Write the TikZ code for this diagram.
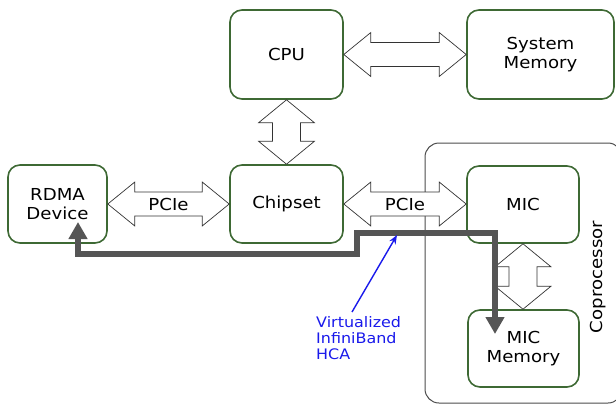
\documentclass[tikz,border=0pt]{standalone}
\usepackage{fontspec}
\setmainfont{DejaVu Sans}[FakeStretch=1.1]
\usetikzlibrary{arrows.meta,calc}
\definecolor{boxgreen}{RGB}{62,105,52}
\definecolor{pathgray}{RGB}{85,85,85}
\definecolor{hcablue}{RGB}{25,25,235}
\tikzset{
  box/.style={draw=boxgreen, line width=1.6pt, rounded corners=12pt, fill=white,
    align=center, inner sep=0pt, font=\fontsize{16.5}{19}\selectfont},
  darr/.style={draw=black!80, line width=0.7pt, fill=white, line join=miter},
  lbl/.style={inner sep=0pt, font=\fontsize{16.5}{19}\selectfont},
  datapath/.style={draw=pathgray, line width=6pt, line join=miter},
  hcaline/.style={draw=hcablue, line width=1.4pt}
}
% horizontal double arrow between #1 (left) and #2 (right)
\newcommand\hdblarrow[2]{%
  \draw[darr] let \p1=(#1), \p2=(#2) in
    (\x1,\y1) -- (\x1+27pt,\y1+22pt) -- (\x1+27pt,\y1+12pt) -- (\x2-27pt,\y1+12pt)
    -- (\x2-27pt,\y1+22pt) -- (\x2,\y1) -- (\x2-27pt,\y1-22pt) -- (\x2-27pt,\y1-12pt)
    -- (\x1+27pt,\y1-12pt) -- (\x1+27pt,\y1-22pt) -- cycle;}
% vertical double arrow between #1 (top) and #2 (bottom)
\newcommand\vdblarrow[2]{%
  \draw[darr] let \p1=(#1), \p2=(#2) in
    (\x1,\y1) -- (\x1+28pt,\y1-23pt) -- (\x1+14pt,\y1-23pt) -- (\x1+14pt,\y2+23pt)
    -- (\x1+28pt,\y2+23pt) -- (\x1,\y2) -- (\x1-28pt,\y2+23pt) -- (\x1-14pt,\y2+23pt)
    -- (\x1-14pt,\y1-23pt) -- (\x1-28pt,\y1-23pt) -- cycle;}
\begin{document}
\begin{tikzpicture}[x=1pt,y=-1pt]
\useasboundingbox (0,0) rectangle (616,405);
% coprocessor container
\draw[draw=black!70, line width=1pt, rounded corners=14pt] (425,143) rectangle (622,403);
\node[rotate=90, font=\fontsize{16.5}{19}\selectfont] (copro) at (598,277) {Coprocessor};
% boxes
\node[box, minimum width=113pt, minimum height=89pt] (cpu) at (286.5,54.5) {CPU};
\node[box, minimum width=147pt, minimum height=89pt] (sys) at (540.5,54.5) {System\\Memory};
\node[box, minimum width=99pt, minimum height=78pt] (rdma) at (57.5,204) {RDMA\\Device};
\node[box, minimum width=113pt, minimum height=78pt] (chip) at (286.5,204) {Chipset};
\node[box, minimum width=112pt, minimum height=77pt] (mic) at (523,204.5) {MIC};
\node[box, minimum width=111pt, minimum height=77pt] (micmem) at (523.5,348.5) {MIC\\Memory};
% double arrows
\hdblarrow{cpu.east}{sys.west}
\hdblarrow{rdma.east}{chip.west}
\hdblarrow{chip.east}{mic.west}
\vdblarrow{cpu.south}{chip.north}
\vdblarrow{mic.south}{micmem.north}
\node[lbl] (pcie1) at ($(rdma.east)!0.5!(chip.west)$) {PCIe};
\node[lbl] (pcie2) at ($(chip.east)!0.5!(mic.west)$) {PCIe};
% data path
\coordinate (p1) at (78,222);
\coordinate (p2) at (78,254);
\coordinate (p3) at (357,254);
\coordinate (p4) at (357,233);
\coordinate (p5) at (495,233);
\coordinate (p6) at (495,334);
\draw[datapath, {Triangle[width=18pt,length=17pt]}-{Triangle[width=18pt,length=17pt]}] (p1) -- (p2) -- (p3) -- (p4) -- (p5) -- (p6);
% HCA label
\node[anchor=north west, inner sep=0pt, align=left, text=hcablue, font=\fontsize{14.5}{16}\selectfont] (hca) at (316,316) {Virtualized\\InfiniBand\\HCA};
\coordinate (hcatip) at (397,235);
\coordinate (hcatail) at (352,312);
\draw[hcaline, -{Stealth[length=9pt,width=7pt]}] (hcatail) -- (hcatip);
\end{tikzpicture}
\end{document}
